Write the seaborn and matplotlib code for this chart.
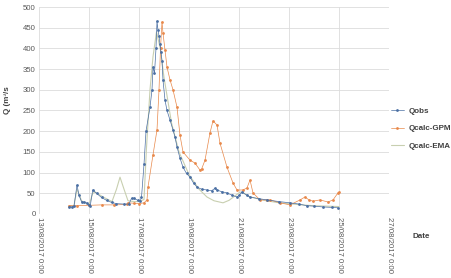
import numpy as np
import pandas as pd
import matplotlib
matplotlib.use("Agg")
import matplotlib.pyplot as plt
import seaborn as sns

# ---- data (day of August 2017, fractional) ----
obs_day = [14.20, 14.30, 14.40, 14.52, 14.60, 14.70, 14.80, 14.90, 15.00, 15.05,
           15.15, 15.30, 15.50, 15.70, 15.90, 16.10, 16.40, 16.60, 16.70, 16.80,
           16.95, 17.05, 17.10, 17.20, 17.28, 17.44, 17.52, 17.56, 17.62, 17.68,
           17.72, 17.76, 17.80, 17.84, 17.88, 17.92, 17.96, 18.04, 18.12, 18.24,
           18.36, 18.44, 18.52, 18.64, 18.76, 18.90, 19.04, 19.18, 19.32, 19.50,
           19.72, 19.90, 20.04, 20.12, 20.30, 20.52, 20.70, 20.92, 21.00, 21.12,
           21.30, 21.44, 21.80, 22.12, 22.60, 23.04, 23.40, 23.72, 24.00, 24.36,
           24.70, 24.96]
obs_q = [18, 17, 19, 70, 45, 30, 28, 27, 21, 20,
         58, 50, 40, 33, 28, 25, 24, 24, 38, 38,
         33, 32, 40, 120, 200, 258, 300, 355, 340, 400,
         466, 444, 430, 410, 391, 370, 323, 275, 250, 227,
         203, 186, 162, 135, 113, 98, 89, 75, 65, 60,
         58, 56, 62, 58, 54, 51, 46, 41, 45, 53,
         46, 41, 37, 34, 30, 27, 24, 20, 19, 17,
         16, 15]

gpm_day = [14.20, 14.50, 15.00, 15.50, 16.00, 16.50, 16.56, 16.80, 17.00, 17.20,
           17.32, 17.36, 17.56, 17.72, 17.80, 17.86, 17.92, 17.96, 18.04, 18.12,
           18.24, 18.36, 18.52, 18.64, 18.76, 19.04, 19.24, 19.44, 19.50, 19.64,
           19.84, 19.96, 20.12, 20.24, 20.52, 20.76, 20.92, 21.16, 21.32, 21.44,
           21.56, 21.84, 22.12, 22.24, 22.64, 23.04, 23.44, 23.64, 23.80, 23.96,
           24.24, 24.56, 24.76, 24.96, 25.00]
gpm_q = [20, 20, 21, 22, 22, 23, 27, 26, 25, 27,
         34, 65, 143, 203, 300, 400, 464, 437, 396, 355,
         324, 300, 258, 190, 150, 130, 123, 106, 108, 130,
         196, 225, 215, 171, 113, 75, 58, 58, 63, 82,
         51, 34, 34, 34, 27, 22, 34, 41, 34, 31,
         34, 29, 34, 51, 53]

ema_day = [14.20, 14.40, 14.52, 14.70, 15.00, 15.15, 15.24, 15.60, 15.92, 16.10,
           16.24, 16.40, 16.56, 16.80, 17.00, 17.20, 17.30, 17.44, 17.56, 17.70,
           17.85, 18.00, 18.30, 18.60, 19.00, 19.40, 19.72, 20.00, 20.36, 20.60,
           20.80, 21.04, 21.20, 21.40, 22.00, 22.50, 23.00, 23.50, 24.00, 24.50,
           25.00]
ema_q = [20, 20, 60, 32, 22, 50, 53, 40, 30, 60,
         89, 60, 32, 30, 30, 35, 160, 300, 380, 440,
         400, 330, 220, 150, 95, 60, 41, 32, 27, 33,
         42, 53, 50, 42, 33, 28, 25, 22, 20, 19,
         18]

series_names = ["Qobs", "Qcalc-GPM", "Qcalc-EMA"]
xtick_labels = ["13/08/2017 0:00", "15/08/2017 0:00", "17/08/2017 0:00",
                "19/08/2017 0:00", "21/08/2017 0:00", "23/08/2017 0:00",
                "25/08/2017 0:00", "27/08/2017 0:00"]
xtick_days = [13, 15, 17, 19, 21, 23, 25, 27]
ytick_vals = list(range(0, 501, 50))


def to_time(days):
    return pd.Timestamp("2017-08-01") + pd.to_timedelta(np.asarray(days) - 1, unit="D")


df = pd.concat([
    pd.DataFrame({"Date": to_time(obs_day), "Q": obs_q, "series": series_names[0]}),
    pd.DataFrame({"Date": to_time(gpm_day), "Q": gpm_q, "series": series_names[1]}),
    pd.DataFrame({"Date": to_time(ema_day), "Q": ema_q, "series": series_names[2]}),
], ignore_index=True)

sns.set_theme(style="white")
plt.rcParams["font.family"] = ["Liberation Sans", "DejaVu Sans"]

fig = plt.figure(figsize=(4.52, 2.78), dpi=100)
ax = fig.add_axes([39 / 452, 1 - 214 / 278, 350 / 452, 207 / 278])

palette = {"Qobs": "#4a6fa3", "Qcalc-GPM": "#e8884a", "Qcalc-EMA": "#c8cfb0"}
styles = {
    "Qobs": dict(marker="o", markersize=2.0, linewidth=0.5, zorder=4),
    "Qcalc-GPM": dict(marker="o", markersize=2.0, linewidth=0.5, zorder=3),
    "Qcalc-EMA": dict(marker=None, linewidth=0.8, zorder=2),
}
for name in series_names:
    sub = df[df["series"] == name]
    sns.lineplot(data=sub, x="Date", y="Q", ax=ax, color=palette[name],
                 label=name, markeredgewidth=0, **styles[name])

ax.set_xlim(to_time([13])[0], to_time([27])[0])
ax.set_ylim(0, 500)
ax.set_xticks(to_time(xtick_days))
ax.set_xticklabels(xtick_labels, rotation=-90, fontsize=5.6, color="#595959")
ax.set_yticks(ytick_vals)
ax.set_yticklabels([str(v) for v in ytick_vals], fontsize=5.6, color="#595959")
ax.tick_params(axis="both", length=0, pad=2.5)
ax.grid(True, color="#dcdcdc", linewidth=0.6)
for s in ax.spines.values():
    s.set_visible(False)

ax.set_xlabel("")
ax.set_ylabel("")
fig.text(8 / 452, 1 - 100 / 278, "Q (m³/s", rotation=90, fontsize=5.8,
         fontweight="bold", ha="center", va="center", color="#404040")
fig.text(421 / 452, 1 - 237 / 278, "Date", fontsize=5.8, fontweight="bold",
         ha="center", va="center", color="#404040")

leg = ax.legend(loc="upper left", bbox_to_anchor=(391 / 452, 1 - 107 / 278),
                bbox_transform=fig.transFigure, frameon=False, fontsize=5.8,
                handlelength=1.6, labelspacing=1.25, handletextpad=0.6,
                borderpad=0, borderaxespad=0)
for t in leg.get_texts():
    t.set_fontweight("bold")
    t.set_color("#404040")

fig.savefig("out.png", dpi=100, facecolor="white")
